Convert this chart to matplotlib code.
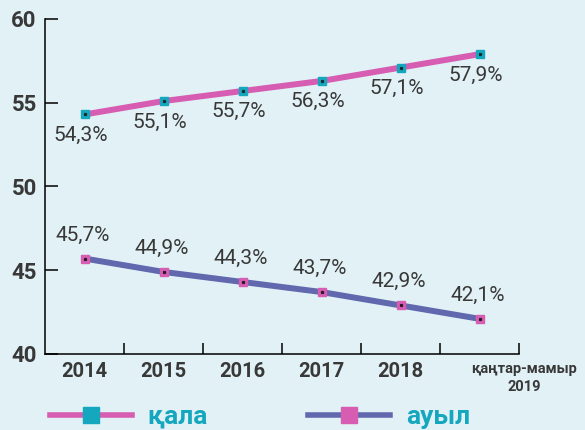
import matplotlib
matplotlib.use("Agg")
import matplotlib.pyplot as plt
import matplotlib.transforms as mtransforms

plt.rcParams['font.family'] = ['Roboto', 'DejaVu Sans']

# data
years = ['2014', '2015', '2016', '2017', '2018', 'қаңтар-мамыр\n2019']
city = [54.3, 55.1, 55.7, 56.3, 57.1, 57.9]
rural = [45.7, 44.9, 44.3, 43.7, 42.9, 42.1]
series_names = ['қала', 'ауыл']

bg = '#e1f1f6'
pink = '#d65db1'
teal = '#14a7bd'
blue = '#6168ad'
dark = '#383838'

fig = plt.figure(figsize=(5.85, 4.3), dpi=100, facecolor=bg)
ax = fig.add_axes([45 / 585, 1 - 354 / 430, 474 / 585, 335 / 430])
ax.set_facecolor(bg)

x = list(range(len(years)))

# lines with square markers
ax.plot(x, city, color=pink, lw=4.3, solid_capstyle='butt', zorder=2)
ax.plot(x, city, ls='none', marker='s', ms=5.5, mfc=teal, mec=teal, zorder=3)
ax.plot(x, city, ls='none', marker='s', ms=1.3, mfc='#1b2a30', mec='#1b2a30', zorder=4)

ax.plot(x, rural, color=blue, lw=4.3, solid_capstyle='butt', zorder=2)
ax.plot(x, rural, ls='none', marker='s', ms=5.5, mfc=pink, mec=pink, zorder=3)
ax.plot(x, rural, ls='none', marker='s', ms=1.3, mfc='#2a1a25', mec='#2a1a25', zorder=4)

# value labels
for xi, v in zip(x, city):
    ax.annotate(f'{v:.1f}%'.replace('.', ','), (xi, v), xytext=(-3, -15),
                textcoords='offset points', ha='center', va='center',
                fontsize=15, color=dark)
for xi, v in zip(x, rural):
    ax.annotate(f'{v:.1f}%'.replace('.', ','), (xi, v), xytext=(-1, 17),
                textcoords='offset points', ha='center', va='center',
                fontsize=15, color=dark)

ax.set_xlim(-0.5, len(years) - 0.5)
ax.set_ylim(40, 60)
ax.set_yticks([40, 45, 50, 55, 60])

# category labels centred, ticks between categories
ax.set_xticks(x)
ax.set_xticklabels(years)
ax.set_xticks([i + 0.5 for i in x], minor=True)
ax.tick_params(axis='x', which='major', length=0, pad=6)
ax.tick_params(axis='x', which='minor', direction='in', length=8, width=1.1, color='black')
ax.tick_params(axis='y', direction='in', length=9, width=1.1, pad=6, color='black')

for lbl in ax.get_yticklabels():
    lbl.set_fontsize(16)
    lbl.set_fontweight('bold')
    lbl.set_color(dark)
for lbl in ax.get_xticklabels():
    lbl.set_fontsize(14.5)
    lbl.set_fontweight('bold')
    lbl.set_color(dark)
last = ax.get_xticklabels()[-1]
last.set_fontsize(10.5)
last.set_linespacing(1.3)
last.set_transform(last.get_transform() + mtransforms.ScaledTranslation(45 / 100, 0, fig.dpi_scale_trans))

for side in ['top', 'right']:
    ax.spines[side].set_visible(False)
for side in ['left', 'bottom']:
    ax.spines[side].set_linewidth(1.1)
    ax.spines[side].set_color('black')

# legend
h1 = plt.Line2D([], [], color=pink, lw=4, marker='s', ms=11, mfc=teal, mec=teal)
h2 = plt.Line2D([], [], color=blue, lw=4, marker='s', ms=11, mfc=pink, mec=pink)
leg = fig.legend([h1, h2], series_names, loc='center left',
                 bbox_to_anchor=(50 / 585, 1 - 417 / 430), ncol=2, frameon=False,
                 handlelength=3.1, handletextpad=0.6, columnspacing=3.8,
                 borderpad=0, borderaxespad=0, numpoints=1,
                 prop={'size': 19, 'weight': 'bold'}, labelcolor=teal)

fig.savefig('out.png', dpi=100, facecolor=bg)
